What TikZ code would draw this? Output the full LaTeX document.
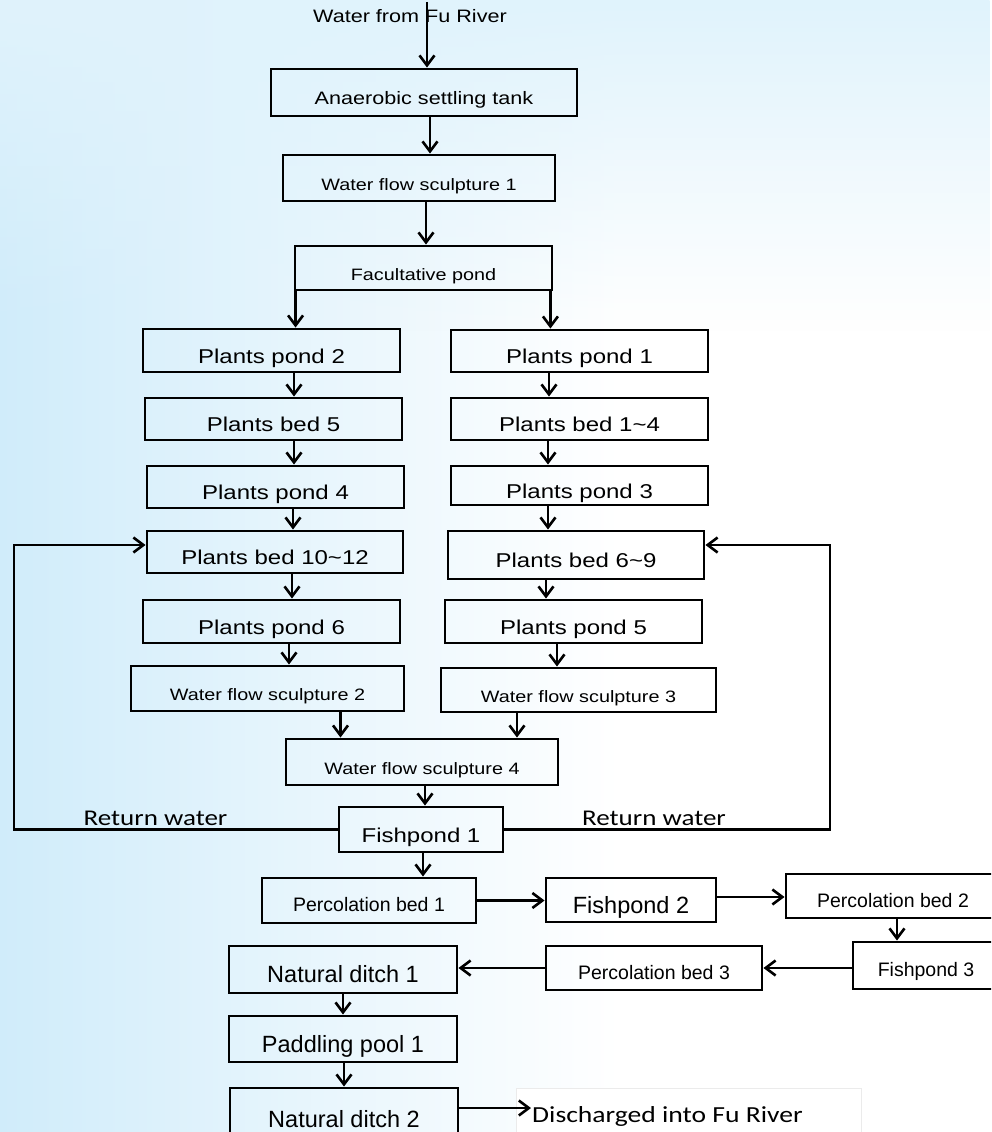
\documentclass[tikz,border=0pt]{standalone}
\usepackage{fontspec}
\usetikzlibrary{arrows.meta,fadings}
\newfontfamily\fA[FakeStretch=1.2]{Liberation Sans}
\newfontfamily\fB{Liberation Sans}
\newfontfamily\fC[FakeStretch=1.2]{Carlito}
\tikzfading[name=fadedown, top color=transparent!0, bottom color=transparent!100]
\definecolor{bgleft}{HTML}{D0ECFA}
\definecolor{bgtop}{HTML}{E0F3FC}
\begin{document}
\begin{tikzpicture}[x=1pt,y=-1pt,
  box/.style={draw=black, line width=2.9pt, inner sep=0pt, align=center, text depth=0pt},
  arr/.style={line width=2.6pt, -{Straight Barb[length=10pt,width=15pt,line width=2.6pt]}},
  tbig/.style={font=\fA\fontsize{20}{24}\selectfont, text height=25pt},
  tmid/.style={font=\fA\fontsize{18}{22}\selectfont, text height=23.5pt},
  tsmall/.style={font=\fA\fontsize{16.5}{20}\selectfont, text height=24pt},
  tnar/.style={font=\fB\fontsize{19.5}{23}\selectfont, text height=22pt},
  tnarbig/.style={font=\fB\fontsize{23.5}{27}\selectfont, text height=26pt},
  ttop/.style={font=\fA\fontsize{18}{22}\selectfont},
  tcal/.style={font=\fC\fontsize{22.5}{26}\selectfont},
]
\useasboundingbox (0,0) rectangle (991,1132);
\clip (0,0) rectangle (991,1132);
% background
\fill[white] (0,0) rectangle (991,1132);
\shade[left color=bgleft, right color=white] (0,0) rectangle (620,1132);
\shade[top color=bgtop, bottom color=bgtop, path fading=fadedown] (0,0) rectangle (991,330);

% top source
\node[ttop, inner sep=0pt] (src) at (410,16) {Water from Fu River};
\coordinate (srcpt) at (427,2);

% main column
\node[box, tmid, minimum width=306pt, minimum height=47pt] (ast) at (424,92.5) {Anaerobic settling tank};
\node[box, tsmall, minimum width=272pt, minimum height=46pt] (wfs1) at (419,178) {Water flow sculpture 1};
\node[box, tsmall, minimum width=257pt, minimum height=44pt] (fac) at (423.5,268) {Facultative pond};

% left branch
\node[box, tbig, minimum width=257pt, minimum height=43pt] (pp2) at (271.5,350.5) {Plants pond 2};
\node[box, tbig, minimum width=257pt, minimum height=42pt] (pb5) at (273.5,419) {Plants bed 5};
\node[box, tbig, minimum width=257pt, minimum height=42pt] (pp4) at (275.5,487) {Plants pond 4};
\node[box, tbig, minimum width=256pt, minimum height=42pt] (pb1012) at (275,552) {Plants bed 10\char`\~12};
\node[box, tbig, minimum width=257pt, minimum height=43pt] (pp6) at (271.5,621.5) {Plants pond 6};
\node[box, tsmall, minimum width=273pt, minimum height=45pt] (wfs2) at (267.5,688.5) {Water flow sculpture 2};

% right branch
\node[box, tbig, minimum width=257pt, minimum height=42pt] (pp1) at (579.5,351) {Plants pond 1};
\node[box, tbig, minimum width=257pt, minimum height=42pt] (pb14) at (579.5,419) {Plants bed 1\char`\~4};
\node[box, tbig, minimum width=257pt, minimum height=39pt] (pp3) at (579.5,485.5) {Plants pond 3};
\node[box, tbig, minimum width=256pt, minimum height=48pt] (pb69) at (576,555) {Plants bed 6\char`\~9};
\node[box, tbig, minimum width=257pt, minimum height=43pt] (pp5) at (573.5,621.5) {Plants pond 5};
\node[box, tsmall, minimum width=275pt, minimum height=44pt] (wfs3) at (578.5,690) {Water flow sculpture 3};

% merge
\node[box, tsmall, minimum width=272pt, minimum height=46pt] (wfs4) at (422,762) {Water flow sculpture 4};
\node[box, tbig, minimum width=164pt, minimum height=45pt] (fp1) at (421,829.5) {Fishpond 1};

% lower chain
\node[box, tnar, minimum width=214pt, minimum height=45pt] (pcb1) at (369,900.5) {Percolation bed 1};
\node[box, tnarbig, minimum width=170pt, minimum height=44pt] (fp2) at (631,900) {Fishpond 2};
\node[box, tnar, minimum width=214pt, minimum height=44pt] (pcb2) at (893,896) {Percolation bed 2};
\node[box, tnar, minimum width=146pt, minimum height=47pt] (fp3) at (926,965.5) {Fishpond 3};
\node[box, tnar, minimum width=216pt, minimum height=44pt] (pcb3) at (654,968) {Percolation bed 3};
\node[box, tnarbig, minimum width=228pt, minimum height=47pt] (nd1) at (343,969.5) {Natural ditch 1};
\node[box, tnarbig, minimum width=228pt, minimum height=46pt] (pool1) at (343,1039) {Paddling pool 1};
\node[box, tnarbig, minimum width=228pt, minimum height=52pt] (nd2) at (344,1114) {Natural ditch 2};

% discharge
\node[draw=black!8, fill=white, line width=1pt, minimum width=345pt, minimum height=52pt, anchor=north west, inner sep=0pt] (disbox) at (516,1088) {};
\node[tcal, font=\fC\fontsize{23}{27}\selectfont, anchor=west, inner sep=1pt] (dis) at (531,1116) {Discharged into Fu River};

% return water labels
\node[tcal, inner sep=0pt] (rwl) at (155.5,818) {Return water};
\node[tcal, inner sep=0pt] (rwr) at (654,818) {Return water};
\coordinate (lcorner) at (14,0);
\coordinate (rcorner) at (830,0);

% connectors
\draw[arr] (srcpt) -- (srcpt |- ast.north);
\draw[arr] ([xshift=6pt]ast.south) -- ([xshift=6pt]ast.south |- wfs1.north);
\draw[arr] ([xshift=7pt]wfs1.south) -- ([xshift=7pt]wfs1.south |- fac.north);
\draw[arr] ([xshift=2pt]fac.south west) -- ([xshift=2pt]fac.south west |- pp2.north);
\draw[arr] ([xshift=-3pt]fac.south east) -- ([xshift=-3pt]fac.south east |- pp1.north);

\draw[arr] ([xshift=22.5pt]pp2.south) -- ([xshift=22.5pt]pp2.south |- pb5.north);
\draw[arr] ([xshift=20.5pt]pb5.south) -- ([xshift=20.5pt]pb5.south |- pp4.north);
\draw[arr] ([xshift=17.5pt]pp4.south) -- ([xshift=17.5pt]pp4.south |- pb1012.north);
\draw[arr] ([xshift=17pt]pb1012.south) -- ([xshift=17pt]pb1012.south |- pp6.north);
\draw[arr] ([xshift=17.5pt]pp6.south) -- ([xshift=17.5pt]pp6.south |- wfs2.north);
\draw[arr] ([xshift=73pt]wfs2.south) -- ([xshift=73pt]wfs2.south |- wfs4.north);

\draw[arr] ([xshift=-30.5pt]pp1.south) -- ([xshift=-30.5pt]pp1.south |- pb14.north);
\draw[arr] ([xshift=-31.5pt]pb14.south) -- ([xshift=-31.5pt]pb14.south |- pp3.north);
\draw[arr] ([xshift=-31.5pt]pp3.south) -- ([xshift=-31.5pt]pp3.south |- pb69.north);
\draw[arr] ([xshift=-30pt]pb69.south) -- ([xshift=-30pt]pb69.south |- pp5.north);
\draw[arr] ([xshift=-16.5pt]pp5.south) -- ([xshift=-16.5pt]pp5.south |- wfs3.north);
\draw[arr] ([xshift=-61.5pt]wfs3.south) -- ([xshift=-61.5pt]wfs3.south |- wfs4.north);

\draw[arr] ([xshift=3pt]wfs4.south) -- ([xshift=3pt]wfs4.south |- fp1.north);
\draw[arr] ([xshift=2pt]fp1.south) -- ([xshift=2pt]fp1.south |- pcb1.north);

% return water loops
\draw[arr] (fp1.west) -- (fp1.west -| lcorner) |- ([yshift=7pt]pb1012.west);
\draw[arr] (fp1.east) -- (fp1.east -| rcorner) |- ([yshift=10pt]pb69.east);

% lower chain connectors
\draw[arr] (pcb1.east) -- (pcb1.east -| fp2.west);
\draw[arr] ([yshift=3pt]fp2.east) -- ([yshift=3pt]fp2.east -| pcb2.west);
\draw[arr] ([xshift=4pt]pcb2.south) -- ([xshift=4pt]pcb2.south |- fp3.north);
\draw[arr] (fp3.west |- pcb3.east) -- (pcb3.east);
\draw[arr] (pcb3.west) -- (pcb3.west -| nd1.east);
\draw[arr] (nd1.south) -- (pool1.north);
\draw[arr] ([xshift=1pt]pool1.south) -- ([xshift=1pt]pool1.south |- nd2.north);
\draw[arr] ([yshift=6pt]nd2.east) -- ([yshift=6pt]nd2.east -| dis.west);
\end{tikzpicture}
\end{document}
